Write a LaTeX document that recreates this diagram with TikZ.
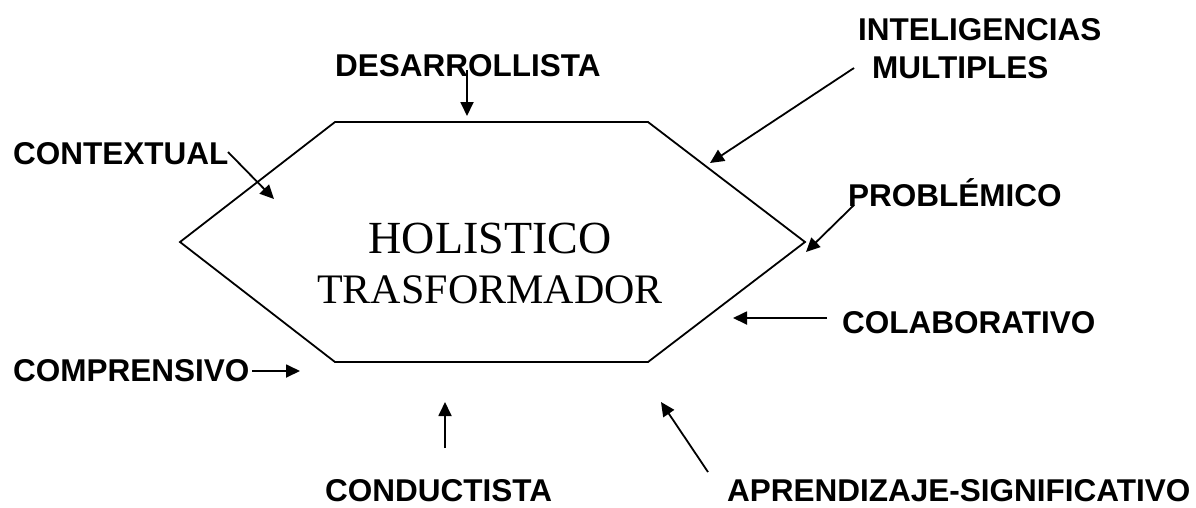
\documentclass[tikz,border=0pt]{standalone}
\usepackage{fontspec}
\setmainfont{Liberation Serif}
\newfontfamily\labfont{Liberation Sans}
\usetikzlibrary{arrows.meta}
\tikzset{
  lab/.style={font=\labfont\bfseries\fontsize{31.5}{34}\selectfont, inner sep=0pt, anchor=base west},
  conn/.style={line width=1.8pt, -{Triangle[length=14pt,width=13pt]}},
  hexline/.style={line width=1.8pt, line join=miter},
  mid/.style={font=\fontsize{46}{50}\selectfont, inner sep=0pt, anchor=base}
}
\begin{document}
\begin{tikzpicture}[x=1pt,y=-1pt]
\useasboundingbox (0,0) rectangle (1196,507);
% hexagon
\coordinate (h1) at (335,122);
\coordinate (h2) at (648,122);
\coordinate (h3) at (805,242);
\coordinate (h4) at (648,362);
\coordinate (h5) at (335,362);
\coordinate (h6) at (180,242);
\draw[hexline] (h1) -- (h2) -- (h3) -- (h4) -- (h5) -- (h6) -- cycle;
% centre text
\node[mid] (hol) at (490,253) {HOLISTICO};
\node[mid, font=\fontsize{42}{46}\selectfont] (tra) at (490,303) {TRASFORMADOR};
% labels
\node[lab] (des) at (335,76) {DESARROLLISTA};
\node[lab] (con) at (13,164) {CONTEXTUAL};
\node[lab] (int) at (858,40) {INTELIGENCIAS};
\node[lab] (mul) at (872,78) {MULTIPLES};
\node[lab] (pro) at (848,206) {PROBLÉMICO};
\node[lab] (col) at (842,333) {COLABORATIVO};
\node[lab] (com) at (13,381) {COMPRENSIVO};
\node[lab] (cdt) at (325,501) {CONDUCTISTA};
\node[lab] (apr) at (727,501) {APRENDIZAJE-SIGNIFICATIVO};
% connector ends
\coordinate (desS) at (467,70);  \coordinate (desT) at (467,116);
\coordinate (conS) at (228,152); \coordinate (conT) at (274,199);
\coordinate (mulS) at (854,68);  \coordinate (mulT) at (710,163);
\coordinate (proS) at (854,205); \coordinate (proT) at (806,252);
\coordinate (colS) at (827,318); \coordinate (colT) at (733,318);
\coordinate (comS) at (252,371); \coordinate (comT) at (300,371);
\coordinate (cdtS) at (445,448); \coordinate (cdtT) at (445,402);
\coordinate (aprS) at (708,472); \coordinate (aprT) at (661,402);
\draw[conn] (desS) -- (desT);
\draw[conn] (conS) -- (conT);
\draw[conn] (mulS) -- (mulT);
\draw[conn] (proS) -- (proT);
\draw[conn] (colS) -- (colT);
\draw[conn] (comS) -- (comT);
\draw[conn] (cdtS) -- (cdtT);
\draw[conn] (aprS) -- (aprT);
\end{tikzpicture}
\end{document}
